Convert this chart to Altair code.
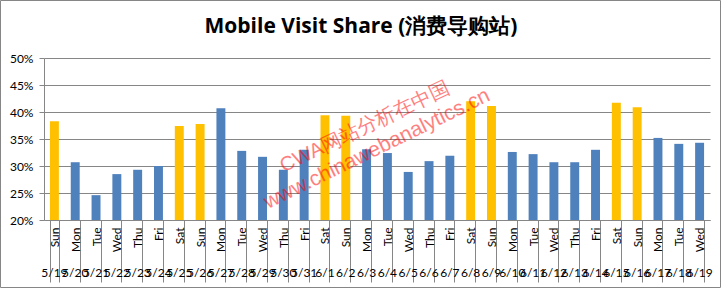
import altair as alt
import pandas as pd

days = ["Sun", "Mon", "Tue", "Wed", "Thu", "Fri", "Sat",
        "Sun", "Mon", "Tue", "Wed", "Thu", "Fri", "Sat",
        "Sun", "Mon", "Tue", "Wed", "Thu", "Fri", "Sat",
        "Sun", "Mon", "Tue", "Wed", "Thu", "Fri", "Sat",
        "Sun", "Mon", "Tue", "Wed"]
dates = ["5/19", "5/20", "5/21", "5/22", "5/23", "5/24", "5/25",
         "5/26", "5/27", "5/28", "5/29", "5/30", "5/31", "6/1",
         "6/2", "6/3", "6/4", "6/5", "6/6", "6/7", "6/8",
         "6/9", "6/10", "6/11", "6/12", "6/13", "6/14", "6/15",
         "6/16", "6/17", "6/18", "6/19"]
share = [38.3, 30.7, 24.6, 28.5, 29.3, 30.0, 37.4,
         37.8, 40.7, 32.8, 31.7, 29.3, 33.0, 39.4,
         39.3, 33.1, 32.4, 28.9, 30.9, 31.9, 42.0,
         41.1, 32.6, 32.2, 30.7, 30.7, 33.0, 41.7,
         40.9, 35.2, 34.1, 34.3]
y_ticks = [0.20, 0.25, 0.30, 0.35, 0.40, 0.45, 0.50]
title_text = "Mobile Visit Share (消费导购站)"
watermark_1 = "CWA网站分析在中国"
watermark_2 = "www.chinawebanalytics.cn"

df = pd.DataFrame({
    "key": [d + "|" + t for d, t in zip(days, dates)],
    "day": days,
    "date": dates,
    "share": [v / 100 for v in share],
    "kind": ["weekend" if d in ("Sat", "Sun") else "weekday" for d in days],
})

GRAY = "#868686"
FONT = "Lato"

x_enc = alt.X(
    "key:N", sort=None, title=None,
    scale=alt.Scale(paddingInner=0.57, paddingOuter=0.285),
    axis=alt.Axis(
        labelExpr="isString(datum.value) ? split(datum.value, '|')[0] : ''",
        labelAngle=270, labelFontSize=12, labelColor="#000",
        labelFont=FONT, labelPadding=-55,
        tickBand="extent", tickSize=62, tickColor=GRAY,
        domainColor=GRAY, grid=False, labelOverlap=False,
    ),
)

bars = alt.Chart(df).mark_bar(clip=True).encode(
    x=x_enc,
    y=alt.Y(
        "share:Q", title=None,
        scale=alt.Scale(domain=[0.2, 0.5], nice=False, zero=False),
        axis=alt.Axis(
            values=y_ticks, format=".0%", labelFontSize=12,
            labelColor="#000", labelFont=FONT, labelPadding=6,
            tickSize=5, tickColor=GRAY, domainColor=GRAY,
            gridColor=GRAY, gridWidth=1,
        ),
    ),
    y2=alt.datum(0.2),
    color=alt.Color(
        "kind:N", legend=None,
        scale=alt.Scale(domain=["weekday", "weekend"],
                        range=["#4F81BD", "#FFC000"]),
    ),
)

date_labels = alt.Chart(df).mark_text(
    fontSize=12, font=FONT, color="#000", baseline="middle", align="center"
).encode(
    x=alt.X("key:N", sort=None),
    y=alt.value(215),
    text="date:N",
)

one = pd.DataFrame({"t": [0]})

title = alt.Chart(one).mark_text(
    text=title_text, font="Open Sans", fontSize=21, fontWeight="bold",
    color="#000", align="center", baseline="alphabetic",
).encode(x=alt.value(317), y=alt.value(-25))

wm1 = alt.Chart(one).mark_text(
    text=watermark_1, font="Liberation Sans", fontSize=20,
    color="#FF0000", opacity=0.5, angle=334.5,
    align="center", baseline="middle",
).encode(x=alt.value(321), y=alt.value(69))
wm2 = alt.Chart(one).mark_text(
    text=watermark_2, font="Liberation Sans", fontSize=21,
    color="#FF0000", opacity=0.5, angle=334,
    align="center", baseline="middle",
).encode(x=alt.value(333), y=alt.value(91))

border = alt.Chart(one).mark_rect(
    fill=None, fillOpacity=0, stroke=GRAY, strokeWidth=1
).encode(
    x=alt.value(-43.5), x2=alt.value(676.5),
    y=alt.value(-57.5), y2=alt.value(229.5),
)

chart = alt.layer(bars, date_labels, title, wm1, wm2, border).properties(
    width=666, height=162,
    autosize=alt.AutoSizeParams(type="none"),
    padding={"left": 44, "top": 58, "right": 15, "bottom": 69},
).configure_view(stroke=None)

chart.save("out.html", embed_options={"renderer": "svg", "actions": False})
